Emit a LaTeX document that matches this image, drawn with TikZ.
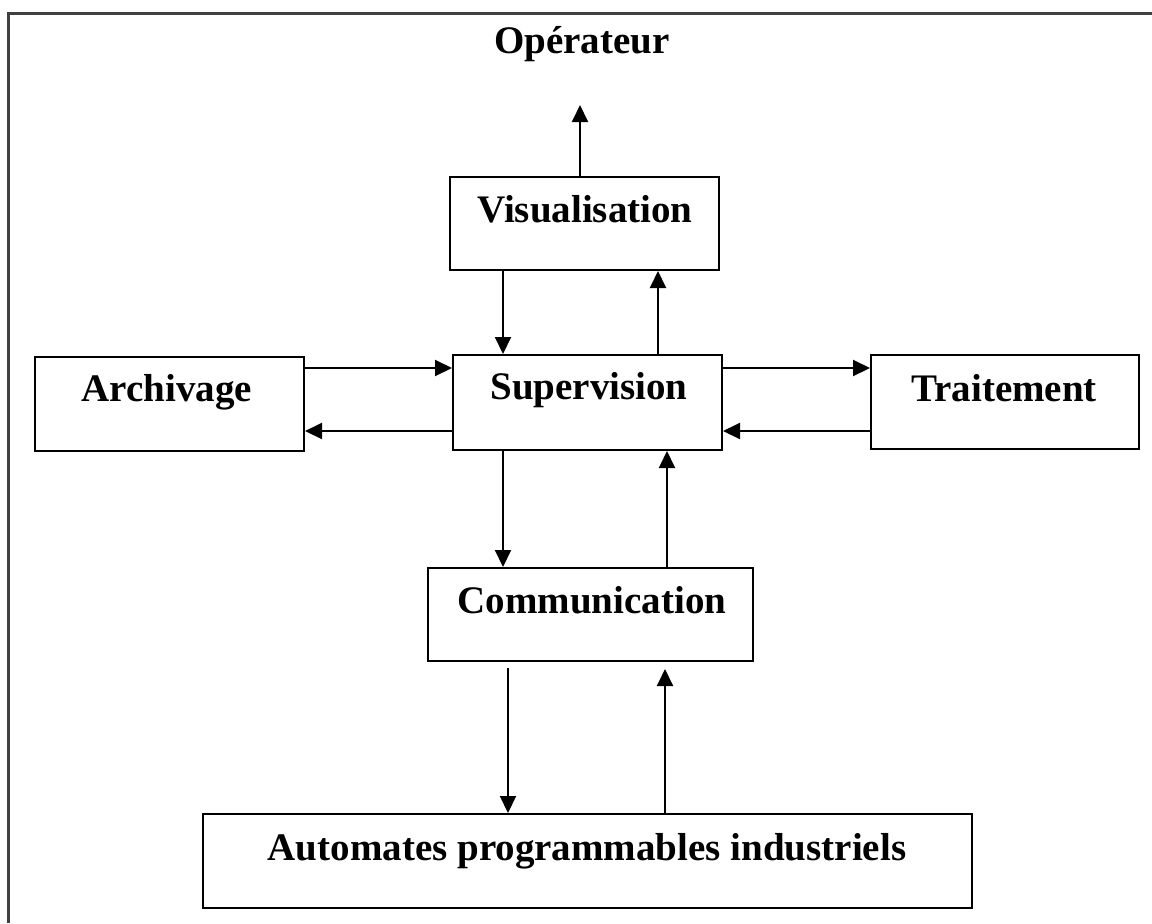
\documentclass[tikz,border=0pt]{standalone}
\usepackage{fontspec}
\setmainfont{Liberation Serif}
\usetikzlibrary{arrows.meta}
\begin{document}
\begin{tikzpicture}[x=0.5pt,y=-0.5pt,
  box/.style={draw, line width=1pt, inner sep=0pt},
  lbl/.style={anchor=base, inner sep=0pt, font=\fontsize{19.5}{22}\selectfont\bfseries},
  arr/.style={line width=1pt, -{Triangle[length=8.5pt,width=8pt]}}]
\useasboundingbox (0,0) rectangle (1152,923);
% outer frame (only top and left edges fall inside the page)
\draw[line width=1.5pt, black!75] (8,923) -- (8,13) -- (1152,13);

% blocks
\node (vis) [box, minimum width=134.5pt, minimum height=46.5pt] at (584.5,223.5) {};
\node (sup) [box, minimum width=134.5pt, minimum height=47.5pt] at (587.5,402.5) {};
\node (arc) [box, minimum width=134.5pt, minimum height=47pt] at (169.5,404) {};
\node (tra) [box, minimum width=134pt, minimum height=47pt] at (1005,402) {};
\node (com) [box, minimum width=162.5pt, minimum height=46.5pt] at (590.5,614.5) {};
\node (api) [box, minimum width=384.5pt, minimum height=47pt] at (587.5,861) {};

% labels
\node (opT)  [lbl] at (582,53)  {Opérateur};
\node (visT) [lbl] at (585,222) {Visualisation};
\node (supT) [lbl] at (589,399) {Supervision};
\node (arcT) [lbl] at (167,401) {Archivage};
\node (traT) [lbl] at (1004,401) {Traitement};
\node (comT) [lbl] at (592,613) {Communication};
\node (apiT) [lbl] at (587,860) {Automates programmables industriels};

% guide positions for the connectors
\coordinate (xop) at (580,0);
\coordinate (optip) at (580,105);
\coordinate (xa) at (503,0);
\coordinate (xb) at (658,0);
\coordinate (xc) at (667,0);
\coordinate (xd) at (508,0);
\coordinate (xe) at (665,0);
\coordinate (ya) at (0,368);
\coordinate (yb) at (0,431);

% connectors
\draw[arr] (vis.north -| xop) -- (optip);
\draw[arr] (vis.south -| xa) -- (sup.north -| xa);
\draw[arr] (sup.north -| xb) -- (vis.south -| xb);
\draw[arr] (arc.east |- ya) -- (sup.west |- ya);
\draw[arr] (sup.west |- yb) -- (arc.east |- yb);
\draw[arr] (sup.east |- ya) -- (tra.west |- ya);
\draw[arr] (tra.west |- yb) -- (sup.east |- yb);
\draw[arr] (sup.south -| xa) -- (com.north -| xa);
\draw[arr] (com.north -| xc) -- (sup.south -| xc);
\draw[arr, shorten <=3pt] (com.south -| xd) -- (api.north -| xd);
\draw[arr, shorten >=3.5pt] (api.north -| xe) -- (com.south -| xe);
\end{tikzpicture}
\end{document}
